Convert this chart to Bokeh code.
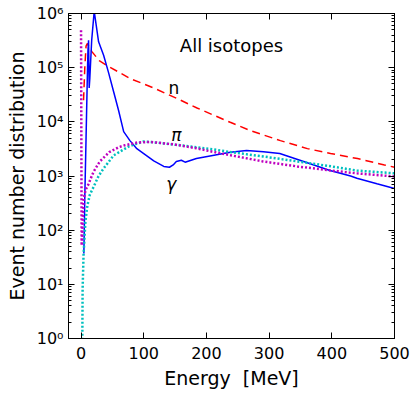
from bokeh.plotting import figure
from bokeh.models import LogAxis, LinearAxis, FixedTicker, Label, CustomJSTickFormatter
from bokeh.embed import file_html
from bokeh.resources import INLINE

# ---- data ----
energy_n = [4, 6, 8, 10, 17, 29, 41, 60, 78, 100, 116, 150, 185, 238, 270, 318, 361, 398, 441, 484, 500]
counts_n = [2.5e4, 1.0e5, 2.5e5, 2.8e5, 2.0e5, 1.35e5, 1.1e5, 8.3e4, 6.3e4, 5.0e4, 4.2e4, 2.8e4,
            1.8e4, 9.8e3, 6.9e3, 4.5e3, 3.2e3, 2.6e3, 2.1e3, 1.6e3, 1.45e3]

energy_g = [4.5, 6, 8, 10, 11, 12, 13, 14, 17, 21, 24, 28, 36, 44, 52, 60, 68, 78, 89, 100, 116,
            132, 141, 147, 152, 160, 166, 184, 210, 238, 264, 291, 317, 355, 397, 430, 440, 472, 500]
counts_g = [37, 400, 5.0e3, 6.3e4, 2.0e5, 3.2e5, 4.2e4, 6.3e4, 3.2e5, 1.1e6, 6.3e5, 3.0e5, 1.7e5,
            8.0e4, 3.6e4, 1.6e4, 6.6e3, 4.5e3, 3.2e3, 2.6e3, 1.9e3, 1.5e3, 1.45e3, 1.6e3, 1.85e3,
            1.95e3, 1.8e3, 2.1e3, 2.4e3, 2.75e3, 2.95e3, 2.8e3, 2.6e3, 1.85e3, 1.26e3, 1.0e3, 910, 720, 590]

energy_pi_a = [2, 2.5, 4, 7, 10, 14, 20, 28, 36, 52, 77, 100, 132, 184, 211, 240, 290, 345, 400, 440, 500]
counts_pi_a = [0.8, 8, 35, 145, 280, 450, 630, 1.0e3, 1.38e3, 2.4e3, 3.55e3, 4.35e3, 4.0e3,
               3.4e3, 3.1e3, 2.75e3, 2.3e3, 1.86e3, 1.5e3, 1.26e3, 1.12e3]

energy_pi_b = [0, 1, 3, 4, 6, 8, 12, 16, 20, 30, 45, 60, 70, 90, 110, 130, 150, 184, 210, 240, 290,
               345, 400, 440, 500]
counts_pi_b = [4.9e5, 52, 200, 355, 480, 575, 710, 930, 1.2e3, 1.86e3, 2.75e3, 3.4e3, 3.7e3, 4.15e3,
               4.25e3, 4.05e3, 3.8e3, 3.25e3, 2.8e3, 2.4e3, 1.86e3, 1.5e3, 1.26e3, 1.12e3, 980]

x_ticks = [0, 100, 200, 300, 400, 500]
y_ticks = [1, 10, 100, 1000, 10000, 100000, 1000000]
y_tick_labels = ["10⁰", "10¹", "10²", "10³", "10⁴", "10⁵", "10⁶"]

FONT = "DejaVu Sans"

p = figure(frame_width=326, frame_height=325, x_range=(-20, 500), y_range=(1, 1e6),
           y_axis_type="log", output_backend="svg", toolbar_location=None,
           min_border_left=68, min_border_top=13, min_border_right=19, min_border_bottom=45)

p.grid.visible = False
p.outline_line_color = "black"
p.outline_line_width = 1
p.background_fill_color = "white"
p.border_fill_color = "white"

minor_y = [m * 10 ** k for k in range(6) for m in range(2, 10)]

p.xaxis.ticker = FixedTicker(ticks=x_ticks)
p.yaxis.ticker = FixedTicker(ticks=y_ticks, minor_ticks=minor_y)
p.yaxis.major_label_overrides = {t: lab for t, lab in zip(y_ticks, y_tick_labels)}

def style_axis(ax):
    ax.axis_line_color = "black"
    ax.major_tick_line_color = "black"
    ax.minor_tick_line_color = "black"
    ax.major_tick_in = 6
    ax.major_tick_out = 0
    ax.minor_tick_in = 3
    ax.minor_tick_out = 0
    ax.major_label_text_font = FONT
    ax.major_label_text_font_size = "16px"
    ax.major_label_text_color = "black"
    ax.axis_label_text_font = FONT
    ax.axis_label_text_font_size = "19px"
    ax.axis_label_text_font_style = "normal"
    ax.axis_label_text_color = "black"

for ax in p.xaxis + p.yaxis:
    style_axis(ax)
p.xaxis.minor_tick_line_color = None
p.xaxis.axis_label = "Energy\u00a0\u00a0[MeV]"
p.yaxis.axis_label = "Event number distribution"
p.xaxis.major_label_standoff = 8
p.yaxis.major_label_standoff = 5
p.xaxis.axis_label_standoff = 5
p.yaxis.axis_label_standoff = 6

blank = CustomJSTickFormatter(code="return ''")
top = LinearAxis(ticker=FixedTicker(ticks=x_ticks), formatter=blank)
right = LogAxis(ticker=FixedTicker(ticks=y_ticks, minor_ticks=minor_y), formatter=blank)
for ax in (top, right):
    style_axis(ax)
    ax.major_label_standoff = 0
top.minor_tick_line_color = None
p.add_layout(top, "above")
p.add_layout(right, "right")

p.line(energy_n, counts_n, line_color="#ff0000", line_dash="8 5", line_width=1.5)
p.line(energy_g, counts_g, line_color="#0000ff", line_width=1.5)
p.line(energy_pi_a, counts_pi_a, line_color="#00bfbf", line_dash="2 2", line_width=2.5)
p.line(energy_pi_b, counts_pi_b, line_color="#bf00bf", line_dash="2 2", line_width=2.5)

def add_label(x, y, text, size, style="normal"):
    p.add_layout(Label(x=x, y=y, text=text, text_font=FONT, text_font_size=size,
                       text_font_style=style, text_align="center", text_baseline="middle",
                       text_color="black"))

add_label(240, 2.6e5, "All isotopes", "18px")
add_label(148, 4.3e4, "n", "17px")
add_label(152, 5.8e3, "π", "17px", "italic")
add_label(144, 7.0e2, "γ", "17px", "italic")

open("out.html", "w").write(file_html(p, INLINE))
